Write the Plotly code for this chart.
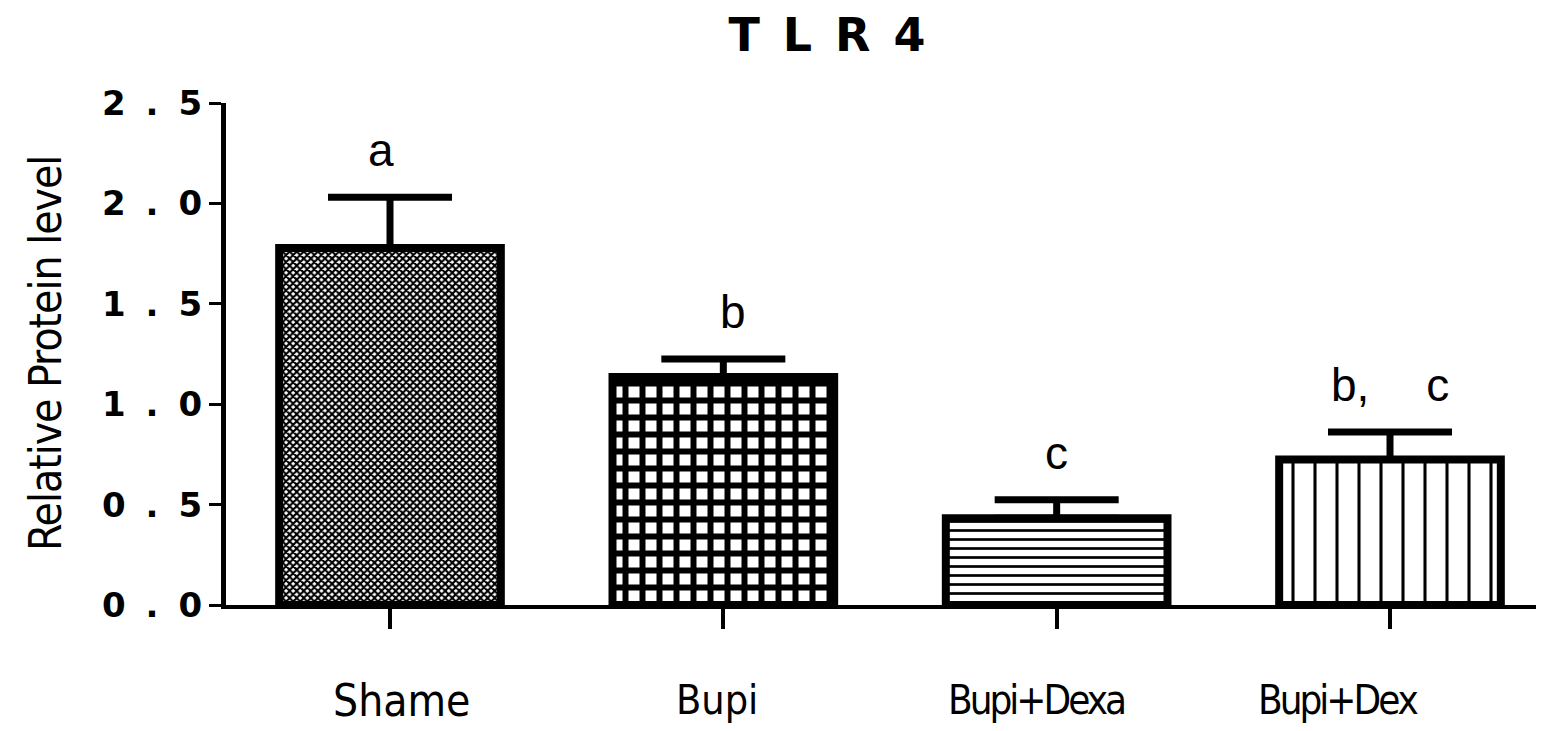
import plotly.graph_objects as go

categories = ["Shame", "Bupi", "Bupi+Dexa", "Bupi+Dex"]
means = [1.778, 1.136, 0.432, 0.724]
sem = [0.253, 0.089, 0.092, 0.137]
letters = ["a", "b", "c", "b<span style='letter-spacing:22px'>, </span>c"]
y_tick_vals = [0.0, 0.5, 1.0, 1.5, 2.0, 2.5]
y_tick_text = ["0.0", "0.5", "1.0", "1.5", "2.0", "2.5"]

# page body has an 8px margin; size the figure so it fills the 1544x731 window
W, H = 1536, 723
L, R, T, B = 218, 0, 95, 126
PW, PH = W - L - R, H - T - B

fig = go.Figure()
fig.add_trace(go.Bar(
    x=categories, y=means,
    width=0.665,
    marker=dict(
        color="white",
        line=dict(color="black", width=8),
        pattern=dict(
            shape=["x", "+", "-", "|"],
            size=[5, 17, 9, 22],
            solidity=[0.65, 0.58, 0.3, 0.14],
            fgcolor="black", bgcolor="white", fillmode="replace",
        ),
    ),
    error_y=dict(type="data", array=sem, arrayminus=[0] * len(sem), symmetric=False,
                 color="black", thickness=7, width=62),
    showlegend=False,
))

cond = "DejaVu Sans Condensed, Liberation Sans Narrow, Arial Narrow, sans-serif"

# significance letters above error bars
letter_shift = {"Shame": -9, "Bupi": 10, "Bupi+Dexa": 0, "Bupi+Dex": 0}
for c, m, s, t in zip(categories, means, sem, letters):
    fig.add_annotation(x=c, y=m + s, xref="x", yref="y", text=t, showarrow=False,
                       yanchor="bottom", yshift=19, xshift=letter_shift[c],
                       font=dict(family="Liberation Sans, Arial, sans-serif", size=46, color="black"))

# category labels
label_style = {
    "Shame": dict(shift=11, size=44, ls=0),
    "Bupi": dict(shift=-6, size=41, ls=0),
    "Bupi+Dexa": dict(shift=-19, size=40, ls=-3),
    "Bupi+Dex": dict(shift=-52, size=40, ls=-3),
}
for c in categories:
    st = label_style[c]
    txt = c if st["ls"] == 0 else f"<span style='letter-spacing:{st['ls']}px'>{c[:-1]}</span>{c[-1]}"
    fig.add_annotation(x=c, y=-(692 - (T + PH)) / PH, xref="x", yref="paper", text=txt,
                       showarrow=False, xshift=st["shift"], yanchor="middle",
                       font=dict(family=cond, size=st["size"], color="black"))

# y-axis title
fig.add_annotation(x=-(L - 37) / PW, y=0.5, xref="paper", yref="paper",
                   text="<span style='letter-spacing:-1px'>Relative Protein level</span>",
                   textangle=-90, showarrow=False, xanchor="center", yanchor="middle",
                   font=dict(family=cond, size=44, color="black"))

fig.update_layout(
    width=W, height=H,
    margin=dict(l=L, r=R, t=T, b=B, autoexpand=False),
    paper_bgcolor="white", plot_bgcolor="white",
    title=dict(text="<span style='letter-spacing:23px'>TLR</span>4",
               x=819 / W, xref="container", xanchor="center",
               y=1 - 27 / H, yref="container", yanchor="middle",
               font=dict(family="DejaVu Sans, Arial Black, sans-serif", size=46,
                         color="black", weight="bold")),
    bargap=0.335,
    xaxis=dict(range=[-0.492, 3.462], showline=True, linewidth=4, linecolor="black",
               ticks="outside", ticklen=20, tickwidth=4, tickcolor="black",
               showticklabels=False, showgrid=False, zeroline=False, automargin=False),
    yaxis=dict(range=[0, 2.5], showline=True, linewidth=5, linecolor="black",
               ticks="outside", ticklen=12, tickwidth=3, tickcolor="black",
               tickvals=y_tick_vals,
               ticktext=["<span style='letter-spacing:20px'>" + t[:2] + "</span>" + t[2:] for t in y_tick_text],
               tickfont=dict(family="DejaVu Sans, Arial Black, sans-serif", size=34,
                             color="black", weight="bold"),
               showgrid=False, zeroline=False, automargin=False),
)

fig.write_html("out.html")
